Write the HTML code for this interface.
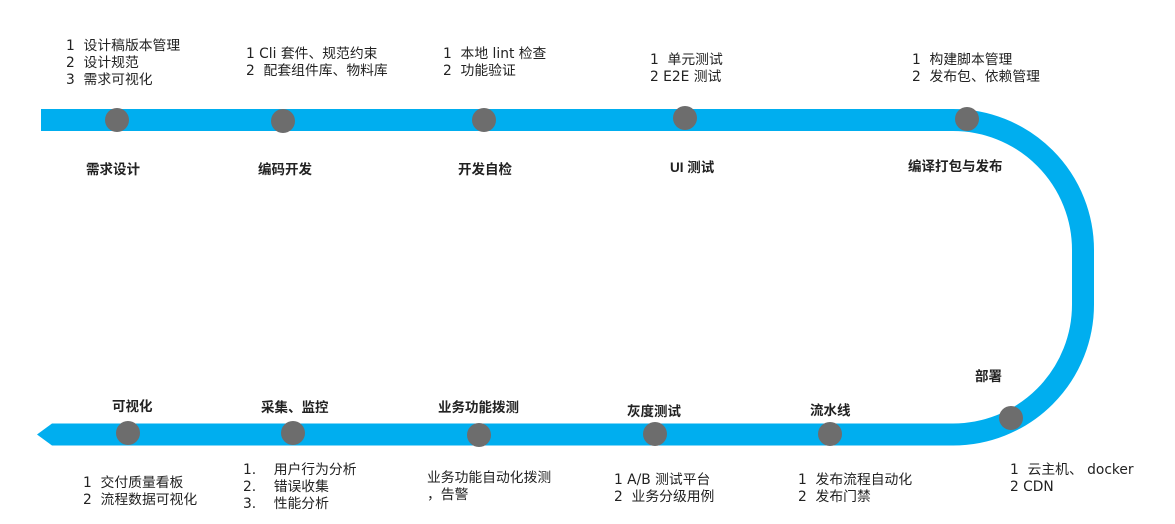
<!DOCTYPE html>
<html><head><meta charset="utf-8"><style>
body{margin:0;width:1175px;height:524px;background:#fff;position:relative;overflow:hidden;font-family:"DejaVu Sans","Noto Sans CJK SC",sans-serif;color:#222}
.t{position:absolute;font-size:13.8px;line-height:17px;white-space:nowrap}
.b{position:absolute;font-size:13.5px;font-weight:bold;white-space:nowrap;color:#222;font-family:"Liberation Sans","Noto Sans CJK SC",sans-serif}
</style></head><body>
<svg width="1175" height="524" style="position:absolute;left:0;top:0">
<path d="M41 120 H953 A130 130 0 0 1 1083 250 V304.5 A130 130 0 0 1 953 434.5 H52" fill="none" stroke="#00aeef" stroke-width="22"/>
<polygon points="52,423.5 52,445.5 37,434.5" fill="#00aeef"/>
<g fill="#6d6d6d">
<circle cx="117" cy="120" r="12"/><circle cx="283" cy="121" r="12"/><circle cx="484" cy="120" r="12"/><circle cx="685" cy="118" r="12"/><circle cx="967" cy="119" r="12"/>
<circle cx="128" cy="433" r="12"/><circle cx="293" cy="433" r="12"/><circle cx="479" cy="435" r="12"/><circle cx="655" cy="434" r="12"/><circle cx="830" cy="434" r="12"/><circle cx="1011" cy="418" r="12"/>
</g></svg>
<div class="t" style="left:66px;top:38px">1&nbsp; 设计稿版本管理<br>2&nbsp; 设计规范<br>3&nbsp; 需求可视化</div>
<div class="t" style="left:246px;top:46px">1 Cli 套件、规范约束<br>2&nbsp; 配套组件库、物料库</div>
<div class="t" style="left:443px;top:46px">1&nbsp; 本地 lint 检查<br>2&nbsp; 功能验证</div>
<div class="t" style="left:650px;top:52px">1&nbsp; 单元测试<br>2 E2E 测试</div>
<div class="t" style="left:912px;top:52px">1&nbsp; 构建脚本管理<br>2&nbsp; 发布包、依赖管理</div>
<div class="b" style="left:86px;top:158px">需求设计</div>
<div class="b" style="left:258px;top:158px">编码开发</div>
<div class="b" style="left:458px;top:158px">开发自检</div>
<div class="b" style="left:670px;top:156px">UI 测试</div>
<div class="b" style="left:908px;top:155px">编译打包与发布</div>
<div class="b" style="left:975px;top:365px">部署</div>
<div class="b" style="left:112px;top:395px">可视化</div>
<div class="b" style="left:261px;top:396px">采集、监控</div>
<div class="b" style="left:438px;top:396px">业务功能拨测</div>
<div class="b" style="left:627px;top:400px">灰度测试</div>
<div class="b" style="left:810px;top:399px">流水线</div>
<div class="t" style="left:83px;top:475px">1&nbsp; 交付质量看板<br>2&nbsp; 流程数据可视化</div>
<div class="t" style="left:243px;top:462px">1.&nbsp;&nbsp;&nbsp; 用户行为分析<br>2.&nbsp;&nbsp;&nbsp; 错误收集<br>3.&nbsp;&nbsp;&nbsp; 性能分析</div>
<div class="t" style="left:427px;top:470px">业务功能自动化拨测<br>，告警</div>
<div class="t" style="left:614px;top:472px">1 A/B 测试平台<br>2&nbsp; 业务分级用例</div>
<div class="t" style="left:798px;top:472px">1&nbsp; 发布流程自动化<br>2&nbsp; 发布门禁</div>
<div class="t" style="left:1010px;top:462px">1&nbsp; 云主机、 docker<br>2 CDN</div>
</body></html>
